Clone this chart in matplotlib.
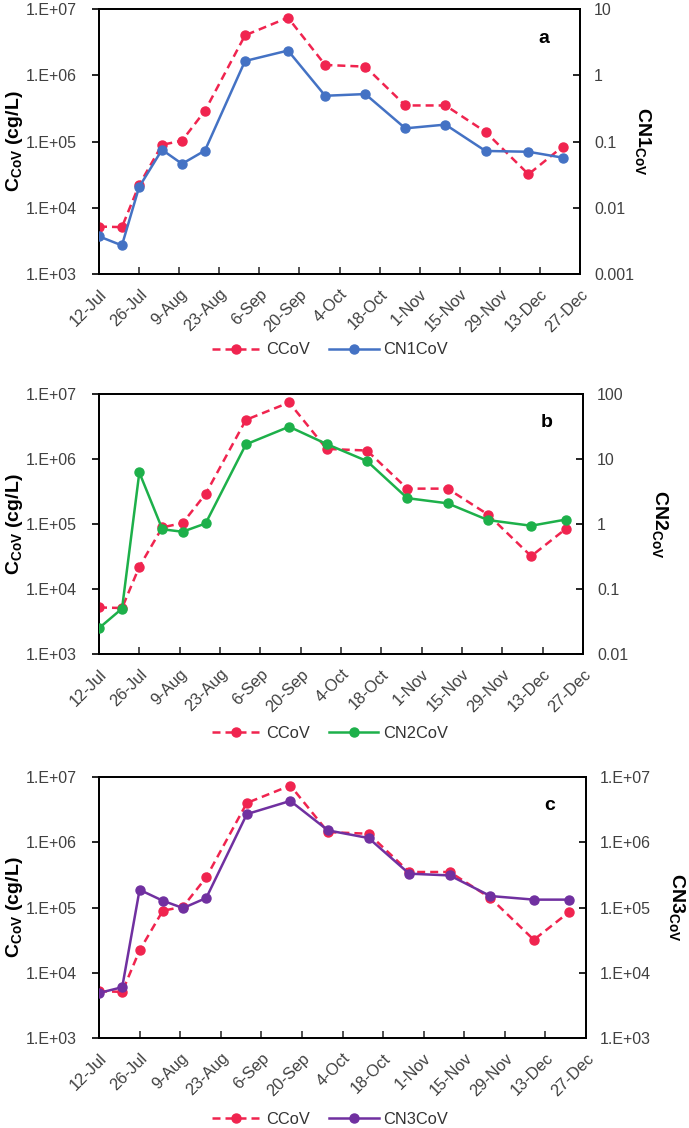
import datetime as dt
import numpy as np
import matplotlib
matplotlib.use("Agg")
import matplotlib.pyplot as plt
import matplotlib.dates as mdates
from matplotlib.ticker import FixedLocator, FuncFormatter, NullLocator

plt.rcParams['font.family'] = ['Liberation Sans', 'DejaVu Sans']
plt.rcParams['mathtext.fontset'] = 'custom'
plt.rcParams['mathtext.rm'] = 'Liberation Sans'
plt.rcParams['mathtext.bf'] = 'Liberation Sans:bold'
plt.rcParams['mathtext.it'] = 'Liberation Sans:italic'

# ---- data ----
sample_dates = ["2020-07-12", "2020-07-20", "2020-07-26", "2020-08-03", "2020-08-10",
                "2020-08-18", "2020-09-01", "2020-09-16", "2020-09-29", "2020-10-13",
                "2020-10-27", "2020-11-10", "2020-11-24", "2020-12-09", "2020-12-21"]
ccov = [5.2e3, 5.1e3, 2.2e4, 8.9e4, 1.03e5, 2.9e5, 4.0e6, 7.4e6, 1.43e6, 1.35e6,
        3.5e5, 3.5e5, 1.4e5, 3.2e4, 8.4e4]
cn1cov = [0.0037, 0.0027, 0.0205, 0.075, 0.046, 0.073, 1.64, 2.36, 0.49, 0.52,
          0.158, 0.18, 0.072, 0.070, 0.057]
cn2cov = [0.025, 0.050, 6.2, 0.83, 0.76, 1.02, 16.8, 31.4, 17.0, 9.3,
          2.5, 2.08, 1.15, 0.94, 1.17]
cn3cov = [4.9e3, 6.0e3, 1.87e5, 1.27e5, 9.8e4, 1.4e5, 2.7e6, 4.3e6, 1.52e6, 1.16e6,
          3.3e5, 3.1e5, 1.5e5, 1.32e5, 1.32e5]
tick_dates = ["2020-07-12", "2020-07-26", "2020-08-09", "2020-08-23", "2020-09-06",
              "2020-09-20", "2020-10-04", "2020-10-18", "2020-11-01", "2020-11-15",
              "2020-11-29", "2020-12-13", "2020-12-27"]
left_ticks = [1e3, 1e4, 1e5, 1e6, 1e7]
right_ticks_a = [0.001, 0.01, 0.1, 1, 10]
right_ticks_b = [0.01, 0.1, 1, 10, 100]
right_ticks_c = [1e3, 1e4, 1e5, 1e6, 1e7]
panel_letters = ["a", "b", "c"]
series_names = ["CN1CoV", "CN2CoV", "CN3CoV"]
right_labels = [r"$\mathbf{CN1_{CoV}}$", r"$\mathbf{CN2_{CoV}}$", r"$\mathbf{CN3_{CoV}}$"]

RED = "#F0244F"
COLORS = ["#4472C4", "#1DB04A", "#7030A0"]

x = mdates.date2num([dt.datetime.fromisoformat(d) for d in sample_dates])
xt = mdates.date2num([dt.datetime.fromisoformat(d) for d in tick_dates])


def sci_fmt(v, pos=None):
    e = int(round(np.log10(v)))
    return "1.E+%02d" % e


def plain_fmt(v, pos=None):
    return ("%g" % v)


def date_fmt(v, pos=None):
    d = mdates.num2date(v)
    return "%d-%s" % (d.day, d.strftime("%b"))


fig = plt.figure(figsize=(6.89, 11.28), dpi=100)
W, H = 689.0, 1128.0
boxes = [(99, 9, 580, 274), (99, 394, 583, 654), (99, 777, 586, 1038)]
legend_y = [350, 733, 1119]
rlab_x = [643, 660, 677]

series = [cn1cov, cn2cov, cn3cov]
rticks = [right_ticks_a, right_ticks_b, right_ticks_c]
rfmts = [plain_fmt, plain_fmt, sci_fmt]

for i in range(3):
    l, t, r, b = boxes[i]
    ax = fig.add_axes([l / W, 1 - b / H, (r - l) / W, (b - t) / H])
    ax2 = ax.twinx()
    ax.set_yscale("log")
    ax2.set_yscale("log")
    ax.set_ylim(left_ticks[0], left_ticks[-1])
    ax2.set_ylim(rticks[i][0], rticks[i][-1])
    ax.set_xlim(xt[0], xt[-1])

    ln1, = ax.plot(x, ccov, color=RED, lw=1.8, ls=(0, (3.2, 2.0)), marker="o",
                   ms=6.5, zorder=3)
    ln2, = ax2.plot(x, series[i], color=COLORS[i], lw=1.8, marker="o", ms=6.5, zorder=3)

    ax.yaxis.set_major_locator(FixedLocator(left_ticks))
    ax.yaxis.set_minor_locator(NullLocator())
    ax.yaxis.set_major_formatter(FuncFormatter(sci_fmt))
    ax2.yaxis.set_major_locator(FixedLocator(rticks[i]))
    ax2.yaxis.set_minor_locator(NullLocator())
    ax2.yaxis.set_major_formatter(FuncFormatter(rfmts[i]))

    ax.xaxis.set_major_locator(FixedLocator(xt))
    ax.xaxis.set_minor_locator(NullLocator())
    ax.xaxis.set_major_formatter(FuncFormatter(date_fmt))
    for lab in ax.get_xticklabels():
        lab.set_rotation(45)
        lab.set_ha("right")
        lab.set_rotation_mode("anchor")

    ax.tick_params(axis="x", direction="in", length=5, width=1.2, labelsize=11.8,
                   pad=9, colors="#333333", labelcolor="#404040")
    ax.tick_params(axis="y", direction="out", length=5, width=1.2, labelsize=11.5,
                   pad=11, labelcolor="#404040")
    ax2.tick_params(axis="y", direction="in", length=5, width=1.2, labelsize=11.5,
                    pad=10, labelcolor="#404040")
    for sp in ax.spines.values():
        sp.set_linewidth(1.3)
    for sp in ax2.spines.values():
        sp.set_linewidth(1.3)

    ax.set_ylabel(r"$\mathbf{C_{CoV}}$ (cg/L)", fontsize=14, fontweight="bold")
    ax.yaxis.set_label_coords(-(99 - 25) / (r - l), 0.5)
    ax2.set_ylabel(right_labels[i], fontsize=14, rotation=-90, va="center")
    ax2.yaxis.set_label_coords((rlab_x[i] - l) / (r - l), 0.5)

    ax.text(0.925, 0.89, panel_letters[i], transform=ax.transAxes, fontsize=14,
            fontweight="bold", ha="center", va="center")

    fig.legend([ln1, ln2], ["CCoV", series_names[i]], loc="center",
               bbox_to_anchor=(330 / W, 1 - legend_y[i] / H),
               ncol=2, frameon=False, fontsize=11.8, handlelength=3.0,
               columnspacing=1.2, handletextpad=0.3, labelcolor="#333333")

fig.savefig("out.png", dpi=100)
